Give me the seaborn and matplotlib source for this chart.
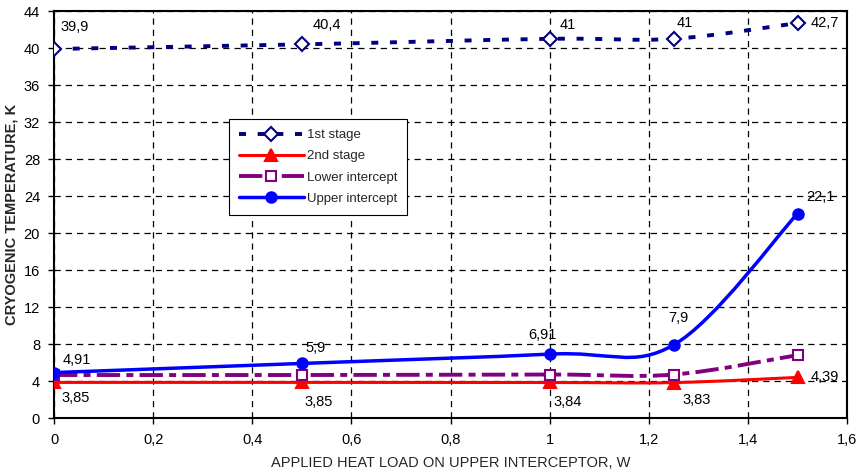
import numpy as np
import pandas as pd
import matplotlib
matplotlib.use("Agg")
import matplotlib.pyplot as plt
from matplotlib.path import Path
from matplotlib.patches import PathPatch
from matplotlib.lines import Line2D
from matplotlib.ticker import FuncFormatter, MultipleLocator
import seaborn as sns

# data
heat_load = [0, 0.5, 1, 1.25, 1.5]
stage1 = [39.9, 40.4, 41, 41, 42.7]
stage2 = [3.85, 3.85, 3.84, 3.83, 4.39]
lower_icpt = [4.65, 4.65, 4.7, 4.7, 6.8]
upper_icpt = [4.91, 5.9, 6.91, 7.9, 22.1]
series_names = ["1st stage", "2nd stage", "Lower intercept", "Upper intercept"]

sns.set_style("white")
plt.rcParams["font.family"] = ["Liberation Sans", "DejaVu Sans"]

df = pd.DataFrame({
    "load": heat_load * 4,
    "temp": stage1 + stage2 + lower_icpt + upper_icpt,
    "series": np.repeat(series_names, len(heat_load)),
})

styles = {
    "1st stage": dict(color="#000080", lw=2.8, ls=(0, (1.8, 3.0)), marker="D", ms=7.5, mfc="white", z=3),
    "2nd stage": dict(color="#ff0000", lw=2.2, ls="-", marker="^", ms=8, mfc="#ff0000", z=3),
    "Lower intercept": dict(color="#800080", lw=2.8, ls=(0, (6, 1.6, 1.8, 1.6)), marker="s", ms=7.5, mfc="white", z=4),
    "Upper intercept": dict(color="#0000ff", lw=2.5, ls="-", marker="o", ms=7.5, mfc="#0000ff", z=5),
}

# label offsets in pixels (x right, y up)
label_offsets = {
    "1st stage": [(21, 22), (25, 19), (18, 14), (11, 16), (27, 0)],
    "Upper intercept": [(23, 13), (14, 15), (-7, 19), (5, 27), (23, 17)],
    "2nd stage": [(22, -16), (17, -20), (18, -20), (23, -17), (27, 0)],
}


def smooth_path(xs, ys):
    # Excel-like smoothed line: cubic Bezier through the points
    pts = np.column_stack([xs, ys]).astype(float)
    n = len(pts)
    verts = [pts[0]]
    codes = [Path.MOVETO]
    for i in range(n - 1):
        p0 = pts[i - 1] if i > 0 else pts[i]
        p1, p2 = pts[i], pts[i + 1]
        p3 = pts[i + 2] if i + 2 < n else pts[i + 1]
        verts += [p1 + (p2 - p0) / 6, p2 - (p3 - p1) / 6, p2]
        codes += [Path.CURVE4] * 3
    return Path(verts, codes)


fig = plt.figure(figsize=(8.6, 4.71), dpi=100)
ax = fig.add_axes([0.0628, 0.1125, 0.9222, 0.864])

handles = []
for name in series_names:
    st = styles[name]
    sub = df[df["series"] == name]
    ax.add_patch(PathPatch(smooth_path(sub["load"], sub["temp"]), facecolor="none",
                           edgecolor=st["color"], lw=st["lw"], linestyle=st["ls"],
                           capstyle="butt", zorder=st["z"]))
    sns.lineplot(data=sub, x="load", y="temp", ax=ax, linestyle="", marker=st["marker"],
                 markersize=st["ms"], markerfacecolor=st["mfc"], markeredgecolor=st["color"],
                 markeredgewidth=1.5, color=st["color"], zorder=st["z"] + 0.5)
    handles.append(Line2D([], [], color=st["color"], lw=st["lw"], linestyle=st["ls"],
                          marker=st["marker"], markersize=st["ms"], markerfacecolor=st["mfc"],
                          markeredgecolor=st["color"], markeredgewidth=1.5))
    if name in label_offsets:
        for x, y, off in zip(sub["load"], sub["temp"], label_offsets[name]):
            ax.annotate(f"{y:g}".replace(".", ","), (x, y), xytext=off,
                        textcoords="offset pixels", ha="center", va="center",
                        fontsize=10.5, color="black", zorder=6)

ax.set_xlim(0, 1.6)
ax.set_ylim(0, 44)
ax.xaxis.set_major_locator(MultipleLocator(0.2))
ax.yaxis.set_major_locator(MultipleLocator(4))
fmt = FuncFormatter(lambda v, p: f"{round(v, 6):g}".replace(".", ","))
ax.xaxis.set_major_formatter(fmt)
ax.yaxis.set_major_formatter(fmt)
ax.tick_params(axis="both", labelsize=10.5, colors="black", length=4, width=1, direction="out")
ax.tick_params(axis="y", pad=6, left=True)
ax.tick_params(axis="x", pad=7, bottom=True)
ax.grid(True, color="black", linestyle=(0, (5, 4)), lw=0.9)
ax.set_axisbelow(True)
for sp in ax.spines.values():
    sp.set_visible(True)
    sp.set_color("black")
    sp.set_linewidth(1.5)

ax.set_xlabel("APPLIED HEAT LOAD ON UPPER INTERCEPTOR, W", fontsize=10.5, labelpad=6)
ax.set_ylabel("CRYOGENIC TEMPERATURE, K", fontsize=10.5, fontweight="bold", labelpad=4)

leg = ax.legend(handles, series_names, loc="upper left", bbox_to_anchor=(0.2207, 0.7346),
                borderaxespad=0, fontsize=9.5, handlelength=4.9, handletextpad=0.25,
                labelspacing=0.68, numpoints=1, fancybox=False, framealpha=1,
                edgecolor="black", borderpad=0.75)
leg.get_frame().set_linewidth(0.8)
leg.set_zorder(7)

fig.savefig("out.png", dpi=100)
